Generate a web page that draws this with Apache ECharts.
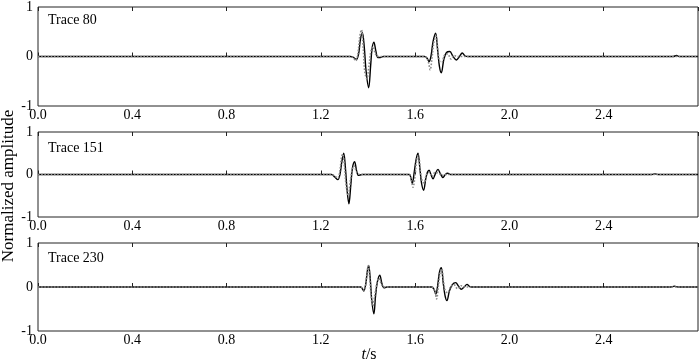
<!DOCTYPE html>
<html>
<head>
<meta charset="utf-8">
<script src="https://cdn.jsdelivr.net/npm/echarts@6/dist/echarts.min.js"></script>
<style>html,body{margin:0;padding:0;background:#fff}#c{width:700px;height:363px}</style>
</head>
<body>
<div id="c"></div>
<script>
const traceNames = ['Trace 80', 'Trace 151', 'Trace 230'];
const xTicks = ['0.0', '0.4', '0.8', '1.2', '1.6', '2.0', '2.4'];
const yTicks = ['-1', '0', '1'];

// Trace 80: solid (black) and dotted (gray)
const solid80 = [[0,0],[1.325,0],[1.338,-0.02],[1.350,-0.06],[1.360,0.05],[1.368,0.35],[1.376,0.48],[1.384,0.2],[1.392,-0.3],[1.403,-0.63],[1.411,-0.2],[1.417,0.15],[1.425,0.29],[1.433,0.12],[1.442,-0.02],[1.452,-0.02],[1.465,0],
  [1.640,0],[1.650,-0.03],[1.659,-0.10],[1.667,0.0],[1.676,0.3],[1.687,0.47],[1.695,0.15],[1.703,-0.2],[1.711,-0.33],[1.722,-0.05],[1.733,0.08],[1.747,0.10],[1.761,0.0],[1.775,-0.07],[1.788,0.0],[1.800,0.07],[1.812,0.01],[1.824,0],
  [2.695,0],[2.709,0.02],[2.72,0],[2.8,0]];
const dotted80 = [[0,0],[1.325,0],[1.340,-0.04],[1.348,-0.09],[1.357,0.05],[1.365,0.4],[1.372,0.54],[1.380,0.15],[1.386,-0.3],[1.395,-0.45],[1.405,-0.15],[1.413,0.12],[1.421,0.2],[1.432,0.05],[1.445,0],
  [1.640,0],[1.654,-0.08],[1.664,-0.27],[1.671,-0.05],[1.680,0.3],[1.689,0.41],[1.697,0.1],[1.704,-0.1],[1.713,-0.12],[1.724,0.02],[1.738,0.05],[1.752,-0.05],[1.765,0.02],[1.78,0],[2.8,0]];

// Trace 151
const solid151 = [[0,0],[1.245,0],[1.259,-0.06],[1.272,-0.12],[1.281,0.0],[1.289,0.3],[1.297,0.5],[1.305,0.1],[1.311,-0.35],[1.319,-0.69],[1.327,-0.25],[1.334,0.15],[1.343,0.3],[1.352,0.08],[1.360,-0.02],[1.375,0],
  [1.575,0],[1.582,-0.08],[1.588,-0.21],[1.596,0.05],[1.604,0.35],[1.612,0.5],[1.620,0.15],[1.627,-0.2],[1.636,-0.37],[1.645,-0.1],[1.652,0.05],[1.659,0.10],[1.667,0.0],[1.676,-0.1],[1.686,0.02],[1.697,0.12],[1.707,0.02],[1.718,-0.07],[1.728,0.0],[1.738,0.03],[1.750,0],
  [2.605,0],[2.617,0.015],[2.63,0],[2.8,0]];
const dotted151 = [[0,0],[1.245,0],[1.262,-0.05],[1.272,-0.08],[1.281,0.1],[1.288,0.42],[1.293,0.48],[1.300,0.2],[1.307,-0.25],[1.316,-0.49],[1.325,-0.15],[1.333,0.12],[1.341,0.2],[1.352,0.05],[1.365,0],
  [1.575,0],[1.583,-0.12],[1.591,-0.30],[1.600,0.0],[1.607,0.35],[1.614,0.45],[1.622,0.1],[1.630,-0.15],[1.638,-0.2],[1.648,0.0],[1.660,0.05],[1.672,-0.05],[1.685,0.05],[1.700,0.03],[1.715,-0.02],[1.73,0],[2.8,0]];

// Trace 230
const solid230 = [[0,0],[1.368,0],[1.376,-0.04],[1.382,-0.09],[1.390,0.05],[1.397,0.35],[1.403,0.49],[1.410,0.15],[1.416,-0.3],[1.425,-0.61],[1.432,-0.2],[1.440,0.12],[1.450,0.27],[1.459,0.08],[1.468,-0.02],[1.480,0],
  [1.670,0],[1.680,-0.05],[1.688,-0.16],[1.696,0.05],[1.703,0.33],[1.711,0.44],[1.719,0.1],[1.727,-0.2],[1.735,-0.31],[1.745,-0.1],[1.757,0.05],[1.772,0.10],[1.784,0.02],[1.796,-0.05],[1.808,0.0],[1.820,0.06],[1.832,0.01],[1.845,0],
  [2.685,0],[2.70,0.02],[2.715,0],[2.8,0]];
const dotted230 = [[0,0],[1.368,0],[1.378,-0.05],[1.385,-0.08],[1.392,0.15],[1.398,0.42],[1.401,0.48],[1.408,0.15],[1.413,-0.2],[1.420,-0.43],[1.430,-0.15],[1.438,0.1],[1.446,0.2],[1.458,0.05],[1.47,0],
  [1.670,0],[1.683,-0.1],[1.691,-0.27],[1.698,0.0],[1.706,0.32],[1.713,0.41],[1.721,0.1],[1.729,-0.1],[1.738,-0.13],[1.750,0.0],[1.765,0.05],[1.780,-0.04],[1.795,0.03],[1.81,0],[2.8,0]];

const solids = [solid80, solid151, solid230];
const dotteds = [dotted80, dotted151, dotted230];

const FONT = '"Liberation Serif", "DejaVu Serif", serif';
const grids = [
  {left: 38, right: 2, top: 7, height: 99},
  {left: 38, right: 2, top: 132, height: 85},
  {left: 38, right: 2, top: 243, height: 88}
].map(g => Object.assign(g, {show: true, borderColor: '#222', borderWidth: 1, containLabel: false}));
const titleTops = [8, 136, 246];

const xAxes = [], yAxes = [], series = [], titles = [];
for (let i = 0; i < 3; i++) {
  const base = {
    type: 'value', min: 0, max: 2.8, interval: 0.4, gridIndex: i,
    axisLine: {show: false}, splitLine: {show: false},
    axisTick: {show: true, inside: true, length: 4, lineStyle: {color: '#222'}}
  };
  xAxes.push(Object.assign({}, base, {
    position: 'bottom',
    axisLabel: {show: true, showMaxLabel: false, margin: 2, fontFamily: FONT, fontSize: 14, color: '#000',
      formatter: v => { const s = v.toFixed(1); return xTicks.indexOf(s) >= 0 ? s : ''; }}
  }));
  xAxes.push(Object.assign({}, base, {position: 'top', axisLabel: {show: false}}));
  yAxes.push({
    type: 'value', min: -1, max: 1, interval: 1, gridIndex: i,
    axisLine: {show: false}, splitLine: {show: false}, axisTick: {show: false},
    axisLabel: {margin: 5, fontFamily: FONT, fontSize: 14, color: '#000',
      formatter: v => { const s = String(Math.round(v)); return yTicks.indexOf(s) >= 0 ? s : ''; }}
  });
  series.push({
    type: 'line', xAxisIndex: 2 * i, yAxisIndex: i, data: solids[i], showSymbol: false, symbol: 'none',
    smooth: 0.35, lineStyle: {color: '#000', width: 1.4}, z: 2, animation: false
  });
  series.push({
    type: 'line', xAxisIndex: 2 * i, yAxisIndex: i, data: dotteds[i], showSymbol: false, symbol: 'none',
    smooth: 0.35, lineStyle: {color: '#8a8a8a', width: 1.6, type: 'dotted'}, z: 3, animation: false
  });
  titles.push({
    text: traceNames[i], left: 43, top: titleTops[i],
    textStyle: {fontFamily: FONT, fontSize: 14, fontWeight: 'normal', color: '#000'}
  });
}

const chart = echarts.init(document.getElementById('c'), null, {renderer: 'canvas'});
chart.setOption({
  animation: false,
  backgroundColor: '#fff',
  title: titles,
  grid: grids,
  xAxis: xAxes,
  yAxis: yAxes,
  series: series,
  graphic: [
    {type: 'text', x: 9, y: 186, rotation: Math.PI / 2,
      style: {text: 'Normalized amplitude', fontFamily: FONT, fontSize: 17, fill: '#000', align: 'center', verticalAlign: 'middle'}},
    {type: 'text', x: 369, y: 355,
      style: {text: '{i|t}/s', fontFamily: FONT, fontSize: 16, fill: '#000', align: 'center', verticalAlign: 'middle',
        rich: {i: {fontStyle: 'italic', fontFamily: FONT, fontSize: 16}}}}
  ]
});
</script>
</body>
</html>
